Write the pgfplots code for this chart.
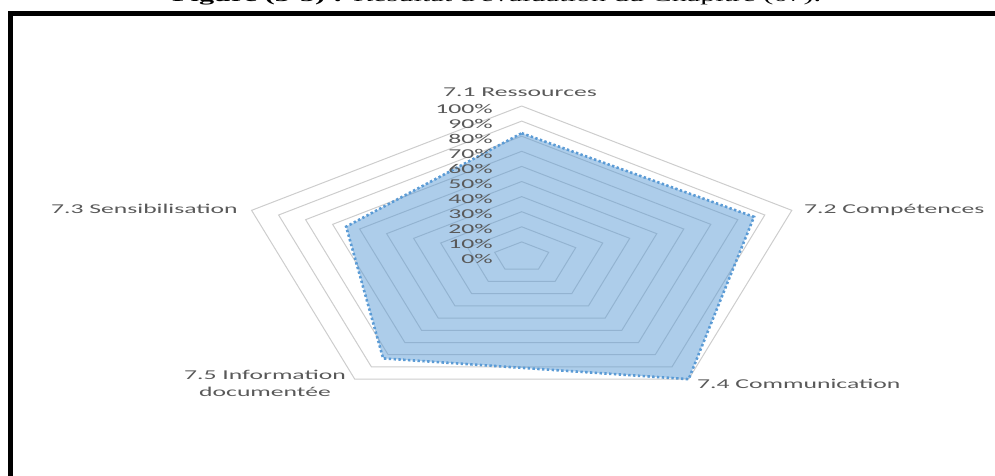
\documentclass[border=0pt]{standalone}
\usepackage{pgfplots}
\pgfplotsset{compat=1.18}
\usepackage{fontspec}
\setmainfont{Carlito}
\newfontfamily\titlefont{Liberation Serif}
\usepackage{graphicx}
\definecolor{excelblue}{RGB}{91,155,213}
\definecolor{gridgray}{RGB}{205,205,205}
\definecolor{labelgray}{RGB}{89,89,89}
\newcommand\sx[1]{\scalebox{1.9}[1]{#1}}
\begin{document}
\begin{tikzpicture}[x=1pt,y=1pt]
\path[use as bounding box] (0,0) rectangle (995,475);
\node[anchor=base west, inner sep=0, font=\titlefont\fontsize{16}{18}\selectfont] at (172,473) {\scalebox{1.89}[1]{\textbf{Figure (3-5) :} Résultat d'évaluation du Chapitre (07).}};
\draw[line width=4.5] (8,461.5) -- (1000,461.5);
\draw[line width=4.5] (10.5,463.75) -- (10.5,-5);
\begin{axis}[at={(521.7pt,218pt)}, anchor=origin, scale only axis,
  width=568pt, height=302pt, xmin=-100, xmax=100, ymin=-100, ymax=100,
  axis lines=none, data cs=polar, clip=false]
\pgfplotsset{every axis plot/.append style={no markers}}
\addplot[gridgray, line width=1pt] coordinates {(90,10)(18,10)(-54,10)(-126,10)(162,10)(90,10)};
\addplot[gridgray, line width=1pt] coordinates {(90,20)(18,20)(-54,20)(-126,20)(162,20)(90,20)};
\addplot[gridgray, line width=1pt] coordinates {(90,30)(18,30)(-54,30)(-126,30)(162,30)(90,30)};
\addplot[gridgray, line width=1pt] coordinates {(90,40)(18,40)(-54,40)(-126,40)(162,40)(90,40)};
\addplot[gridgray, line width=1pt] coordinates {(90,50)(18,50)(-54,50)(-126,50)(162,50)(90,50)};
\addplot[gridgray, line width=1pt] coordinates {(90,60)(18,60)(-54,60)(-126,60)(162,60)(90,60)};
\addplot[gridgray, line width=1pt] coordinates {(90,70)(18,70)(-54,70)(-126,70)(162,70)(90,70)};
\addplot[gridgray, line width=1pt] coordinates {(90,80)(18,80)(-54,80)(-126,80)(162,80)(90,80)};
\addplot[gridgray, line width=1pt] coordinates {(90,90)(18,90)(-54,90)(-126,90)(162,90)(90,90)};
\addplot[gridgray, line width=1pt] coordinates {(90,100)(18,100)(-54,100)(-126,100)(162,100)(90,100)};
% data: 7.1 Ressources, 7.2 Competences, 7.4 Communication, 7.5 Information documentee, 7.3 Sensibilisation
\addplot[draw=none, fill=excelblue, fill opacity=0.5] coordinates {(90,82)(18,86)(-54,100)(-126,83)(162,65)(90,82)};
\addplot[excelblue, line width=2.6pt, dash pattern=on 2.4pt off 2.4pt] coordinates {(90,82)(18,86)(-54,100)(-126,83)(162,65)(90,82)};
\end{axis}
\begin{scope}[every node/.style={inner sep=0, text=labelgray, font=\fontsize{13.5}{15}\selectfont}]
\node[anchor=base] at (520,378) {\sx{7.1 Ressources}};
\node[anchor=base west] at (804,262) {\sx{7.2 Compétences}};
\node[anchor=base east] at (238,262) {\sx{7.3 Sensibilisation}};
\node[anchor=base west] at (697,87) {\sx{7.4 Communication}};
\node[anchor=base] at (265,96) {\sx{7.5 Information}};
\node[anchor=base] at (265,79) {\sx{documentée}};
\node[anchor=base east] at (493,362) {\sx{100\%}};
\node[anchor=base east] at (493,347) {\sx{90\%}};
\node[anchor=base east] at (493,332) {\sx{80\%}};
\node[anchor=base east] at (493,317) {\sx{70\%}};
\node[anchor=base east] at (493,302) {\sx{60\%}};
\node[anchor=base east] at (493,287) {\sx{50\%}};
\node[anchor=base east] at (493,272) {\sx{40\%}};
\node[anchor=base east] at (493,257) {\sx{30\%}};
\node[anchor=base east] at (493,242) {\sx{20\%}};
\node[anchor=base east] at (493,227) {\sx{10\%}};
\node[anchor=base east] at (493,212) {\sx{0\%}};
\end{scope}
\end{tikzpicture}
\end{document}
